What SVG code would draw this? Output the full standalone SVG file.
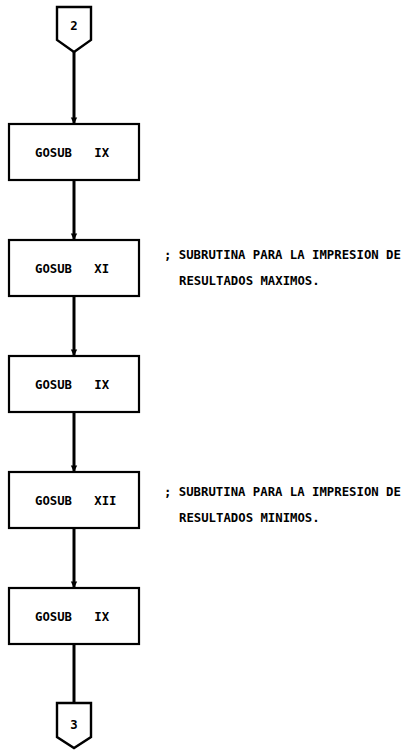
<svg xmlns="http://www.w3.org/2000/svg" width="405" height="750" viewBox="0 0 405 750">
<defs>
<style>
.box{fill:#fff;stroke:#000;stroke-width:2.2}
.off{fill:#fff;stroke:#000;stroke-width:2.4;stroke-linejoin:miter}
.ln{fill:none;stroke:#000;stroke-width:3}
.t{font-family:"DejaVu Sans Mono","Liberation Mono",monospace;font-weight:bold;font-size:12.3px;fill:#000}
.c{text-anchor:middle}
</style>
<marker id="arr" markerUnits="userSpaceOnUse" markerWidth="8" markerHeight="10" refX="9" refY="4" orient="auto" viewBox="0 0 10 8">
<path d="M1,0 L9,4 L1,8 Z" fill="#000"/>
</marker>
</defs>
<rect width="405" height="750" fill="#fff"/>
<g id="connectors">
<line class="ln" x1="74" y1="52" x2="74" y2="124" marker-end="url(#arr)"/>
<line class="ln" x1="74" y1="180" x2="74" y2="240" marker-end="url(#arr)"/>
<line class="ln" x1="74" y1="296" x2="74" y2="356" marker-end="url(#arr)"/>
<line class="ln" x1="74" y1="412" x2="74" y2="472" marker-end="url(#arr)"/>
<line class="ln" x1="74" y1="528" x2="74" y2="588" marker-end="url(#arr)"/>
<line class="ln" x1="74" y1="644" x2="74" y2="703"/>
</g>
<g id="off2">
<polygon class="off" points="57,7 91,7 91,40 74,52 57,40"/>
<text class="t c" x="74" y="30">2</text>
</g>
<g id="box1">
<rect class="box" x="9" y="124" width="130" height="56"/>
<text class="t" x="35" y="157" xml:space="preserve">GOSUB   IX</text>
</g>
<g id="box2">
<rect class="box" x="9" y="240" width="130" height="56"/>
<text class="t" x="35" y="273" xml:space="preserve">GOSUB   XI</text>
</g>
<g id="note1">
<text class="t" x="164" y="259">; SUBRUTINA PARA LA IMPRESION DE</text>
<text class="t" x="179" y="285">RESULTADOS MAXIMOS.</text>
</g>
<g id="box3">
<rect class="box" x="9" y="356" width="130" height="56"/>
<text class="t" x="35" y="389" xml:space="preserve">GOSUB   IX</text>
</g>
<g id="box4">
<rect class="box" x="9" y="472" width="130" height="56"/>
<text class="t" x="35" y="505" xml:space="preserve">GOSUB   XII</text>
</g>
<g id="note2">
<text class="t" x="164" y="496">; SUBRUTINA PARA LA IMPRESION DE</text>
<text class="t" x="179" y="522">RESULTADOS MINIMOS.</text>
</g>
<g id="box5">
<rect class="box" x="9" y="588" width="130" height="56"/>
<text class="t" x="35" y="621" xml:space="preserve">GOSUB   IX</text>
</g>
<g id="off3">
<polygon class="off" points="57,703 91,703 91,737 74,748 57,737"/>
<text class="t c" x="74" y="729">3</text>
</g>
</svg>
